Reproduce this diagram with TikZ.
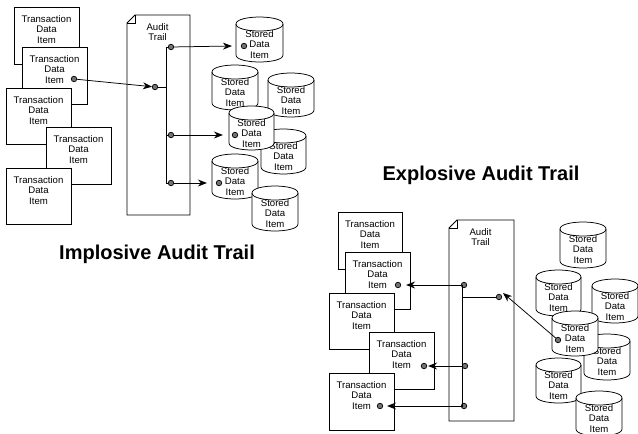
\documentclass[tikz,border=0pt]{standalone}
\usepackage{fontspec}
\setmainfont{Liberation Sans}
\usetikzlibrary{arrows.meta}
\tikzset{
  x=1pt,y=-1pt,
  outline/.style={draw=black,line width=0.75pt,fill=white},
  label3/.style={align=center,font=\fontsize{9.6}{10.6}\selectfont,inner sep=0pt},
  dot/.style={circle,draw=black,fill=black!55,line width=0.7pt,minimum size=5.5pt,inner sep=0pt},
  link/.style={line width=0.75pt},
  flow/.style={line width=0.75pt,-{Stealth[length=9pt,width=7pt]}},
  headline/.style={font=\bfseries\fontsize{14.2}{16}\selectfont,inner sep=0pt}
}
\newcommand{\txbox}[5]{% name x1 y1 x2 y2
  \draw[outline] (#2,#3) rectangle (#4,#5);
  \node[label3,anchor=north] (#1) at ({(#2+#4)/2},#3+8) {Transaction\\Data\\Item};
}
\newcommand{\store}[5]{% name x1 y1 x2 y2
  \draw[outline] (#2,#3+7) .. controls (#2,#3-2.3) and (#4,#3-2.3) .. (#4,#3+7)
     -- (#4,#5-7) .. controls (#4,#5+2.3) and (#2,#5+2.3) .. (#2,#5-7) -- cycle;
  \draw[line width=0.75pt] (#2,#3+7) .. controls (#2,#3+16.3) and (#4,#3+16.3) .. (#4,#3+7);
  \node[label3,anchor=north] (#1) at ({(#2+#4)/2},#3+13) {Stored\\Data\\Item};
}
\newcommand{\trail}[5]{% name x1 y1 x2 y2
  \draw[outline] (#2+8,#3) -- (#4,#3) -- (#4,#5) -- (#2,#5) -- (#2,#3+8) -- cycle;
  \draw[line width=0.6pt] (#2,#3+8) -- (#2+8,#3+8) -- (#2+8,#3);
  \node[label3,anchor=north] (#1) at ({(#2+#4)/2-1},#3+8) {Audit\\Trail};
}
\begin{document}
\begin{tikzpicture}
\useasboundingbox (0,0) rectangle (638,434);
% left group
\txbox{la}{14}{7}{79}{64}
\txbox{lb}{22}{47}{87}{104}
\txbox{lc}{6}{88}{71}{144}
\txbox{ld}{46}{127}{111}{184}
\txbox{le}{6}{168}{71}{224}
\trail{lt}{127}{15}{190}{215}
\store{ls1}{236}{17}{283}{62}
\store{ls2}{212}{65}{258}{110}
\store{ls3}{268}{73}{314}{117}
\store{ls5}{261}{129}{306}{174}
\store{ls4}{229}{106}{274}{150}
\store{ls6}{212}{154}{258}{199}
\store{ls7}{252}{186}{298}{231}
\node[dot] (d0) at (74,79) {};
\node[dot] (d1) at (155,87) {};
\node[dot] (d2) at (171,47) {};
\node[dot] (d3) at (171,135) {};
\node[dot] (d4) at (171,183) {};
\node[dot] (d5) at (244,46) {};
\node[dot] (d6) at (235,135) {};
\node[dot] (d7) at (219,183) {};
\coordinate (vt) at (166,47);
\coordinate (vm) at (166,87);
\coordinate (vb) at (166,183);
\draw[link] (d2) -- (vt) -- (vb) -- (d4);
\draw[link] (d1) -- (vm);
\draw[link] (166,135) -- (d3);
\draw[flow] (d0) -- (d1);
\draw[flow] (d2) -- ([xshift=-9pt]d5.west);
\draw[flow] (d3) -- ([xshift=-9pt]d6.west);
\draw[flow] (d4) -- ([xshift=-9pt]d7.west);
\node[headline,font=\bfseries\fontsize{20}{22}\selectfont] (ltitle) at (157,254) {Implosive Audit Trail};
% right group
\txbox{ra}{338}{212}{402}{269}
\txbox{rb}{345}{252}{410}{309}
\txbox{rc}{329}{293}{394}{349}
\txbox{rd}{369}{332}{434}{389}
\txbox{re}{329}{373}{394}{430}
\trail{rt}{449}{220}{514}{421}
\store{rs1}{560}{222}{606}{268}
\store{rs2}{536}{270}{581}{316}
\store{rs3}{592}{279}{638}{323}
\store{rs5}{584}{334}{630}{380}
\store{rs4}{552}{311}{598}{356}
\store{rs6}{536}{358}{581}{403}
\store{rs7}{576}{391}{622}{436}
\node[dot] (e0) at (558,340) {};
\node[dot] (e1) at (499,297) {};
\node[dot] (e2) at (464,285) {};
\node[dot] (e3) at (465,366) {};
\node[dot] (e4) at (464,406) {};
\node[dot] (e5) at (398,285) {};
\node[dot] (e6) at (424,366) {};
\node[dot] (e7) at (380,406) {};
\coordinate (wt) at (462,285);
\coordinate (wm) at (462,297);
\coordinate (wb) at (462,406);
\draw[link] (e2) -- (wt) -- (wb) -- (e4);
\draw[link] (wm) -- (e1);
\draw[link] (462,366) -- (e3);
\draw[flow] (e0) -- ([shift={(4pt,4pt)}]e1.center);
\draw[flow] (e2) -- ([xshift=5pt]e5.east);
\draw[flow] (e3) -- ([xshift=1pt]e6.east);
\draw[flow] (e4) -- ([xshift=4pt]e7.east);
\node[headline,font=\bfseries\fontsize{20}{22}\selectfont] (rtitle) at (481,175) {Explosive Audit Trail};
\end{tikzpicture}
\end{document}
